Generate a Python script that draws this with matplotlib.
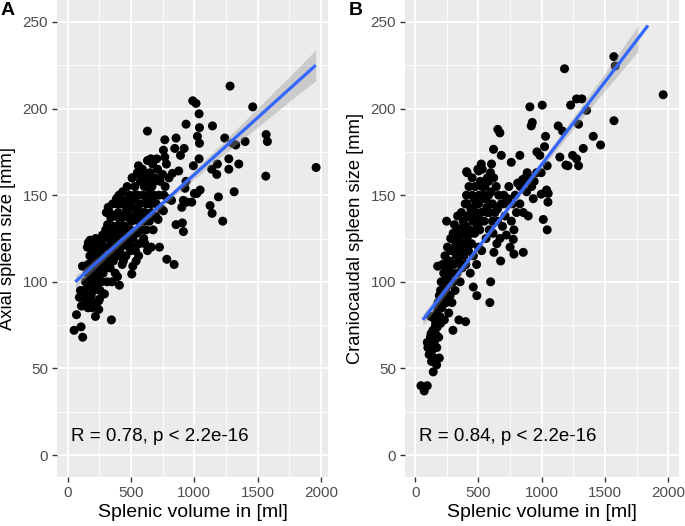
import numpy as np
import matplotlib
matplotlib.use("Agg")
import matplotlib.pyplot as plt
from matplotlib.ticker import MultipleLocator

plt.rcParams["font.family"] = ["Liberation Sans", "DejaVu Sans"]

# ---------------------------------------------------------------- data
# panel A: splenic volume [ml] vs axial spleen size [mm]
a_vol = [1283, 1963, 1462, 988, 1014, 1038, 935, 1144, 1041, 630, 1568, 1578, 1025, 1241, 1402,
         767, 856, 1041, 1302, 1328, 920, 846, 756, 891, 767, 656, 703, 1273, 1038, 1183, 1352,
         993, 559, 1138, 1273, 1565, 1178, 877, 827, 509, 935, 1046, 1020, 1001, 1315, 1191, 927,
         914, 940, 980, 1125, 901, 1141, 1225, 856, 906, 914, 783, 841, 725, 714, 756, 820, 677,
         50, 118, 105, 69, 92, 108, 345, 219, 192, 245, 245, 116, 506, 514, 408, 393, 163, 177, 155,
         130, 140, 150, 155, 160, 170, 175, 180, 185, 190, 195, 200, 200,
         205, 210, 215, 220, 225, 230, 235, 240, 245, 250, 255, 260, 265, 270, 275, 280, 285, 290,
         295, 300, 300,
         305, 310, 312, 315, 320, 325, 330, 335, 340, 345, 350, 355, 360, 365, 370, 375, 380, 385,
         390, 395, 400, 400,
         405, 410, 415, 420, 425, 430, 435, 440, 445, 450, 455, 460, 465, 470, 475, 480, 485, 490,
         495, 500, 500,
         505, 510, 515, 520, 525, 530, 535, 540, 545, 550, 555, 560, 565, 570, 575, 580, 585, 590,
         595, 600,
         605, 610, 615, 620, 625, 630, 640, 645, 650, 655, 660, 665, 670, 675, 680, 690, 695, 700,
         710, 720, 730, 740, 750, 760, 770, 780, 790, 800,
         260, 280, 320, 350, 380, 420, 440, 460, 520, 540, 560, 610, 630, 250, 230, 180, 160, 140,
         120, 100, 330, 345, 360, 290, 270, 310, 440, 470, 490, 530, 570, 600, 620, 650, 215, 235,
         390, 410, 480, 545, 585, 660, 685]
a_size = [213, 166, 201, 204.5, 203, 197, 191, 190, 189, 187, 185, 181, 184, 183, 181,
          182, 183, 180, 180, 179, 177, 177, 176, 173, 172, 171, 171, 171, 171, 168, 168,
          167, 167, 165, 165, 161, 162, 164, 162.6, 160, 158, 153, 151, 151, 152, 149, 154,
          147, 146, 146, 144, 143, 139.5, 135, 133, 134, 129, 113, 110, 120, 136, 141, 147, 146,
          72, 68, 74, 81, 91, 86, 78, 80, 85, 84, 89, 109, 104.5, 109, 98, 103, 122.6, 124, 120,
          95, 100, 92, 105, 110, 97, 115, 103, 92, 108, 118, 100, 112,
          95, 120, 105, 125, 98, 110, 115, 102, 122, 108, 95, 118, 112, 100, 127, 105, 120, 93,
          113, 108, 130,
          140, 120, 100, 133, 143, 115, 125, 108, 137, 130, 118, 145, 112, 128, 138, 105, 122, 148,
          132, 115, 140, 125,
          150, 118, 135, 145, 128, 110, 152, 138, 122, 147, 132, 115, 142, 155, 127, 137, 120, 150,
          130, 143, 118,
          135, 160, 125, 147, 138, 155, 118, 142, 128, 163, 150, 135, 122, 145, 158, 130, 140, 165,
          150, 125,
          155, 140, 162, 130, 148, 170, 158, 135, 163, 145, 120, 155, 168, 130, 150, 160, 138, 145,
          165, 150, 158, 142, 162, 150, 155, 168, 148, 160,
          100, 115, 110, 100, 115, 120, 112, 125, 120, 112, 115, 122, 118, 90, 88, 88, 85, 88,
          92, 95, 140, 122, 132, 125, 110, 127, 128, 140, 123, 150, 138, 135, 145, 152, 113, 100,
          145, 130, 145, 150, 160, 140, 158]

# panel B: splenic volume [ml] vs craniocaudal spleen size [mm]
b_vol = [1960, 1570, 1581, 1180, 1571, 906, 1004, 925, 917, 1228, 1275, 1317, 1354, 1291, 1130,
         1165, 653, 669, 1030, 1407, 1465, 1328, 1022, 962, 619, 680, 827, 1143, 1244, 1275, 759,
         1191, 1207, 1291, 1043, 406, 410, 522, 501, 603, 985, 996, 885, 849, 1038, 1051, 996, 1049,
         933, 827, 854, 893, 1012, 1043, 775, 854, 780, 675, 590, 398, 248, 177, 121, 45, 95, 71,
         142, 95, 129, 169, 190, 345, 298, 487, 459, 596, 622,
         100, 110, 120, 130, 140, 150, 155, 160, 170, 175, 180, 185, 190, 195, 200, 200,
         205, 210, 215, 220, 225, 230, 235, 240, 245, 250, 255, 260, 265, 270, 275, 280, 285, 290,
         295, 300, 300,
         305, 310, 315, 320, 325, 330, 335, 340, 345, 350, 355, 360, 365, 370, 375, 380, 385, 390,
         395, 400, 400,
         405, 410, 415, 420, 425, 430, 435, 440, 445, 450, 455, 460, 465, 470, 475, 480, 485, 490,
         495, 500, 500,
         505, 510, 515, 520, 525, 530, 540, 545, 550, 560, 565, 570, 580, 585, 590, 595, 600,
         610, 615, 620, 630, 640, 645, 650, 660, 670, 680, 690, 700,
         710, 720, 730, 740, 750, 760, 770, 780, 790, 800, 810, 830, 850, 870, 900, 920, 940, 960,
         880,
         140, 160, 180, 200, 220, 240, 260, 280, 320, 340, 360, 380, 420, 440, 460, 480, 520, 540,
         560, 580, 170, 210, 250, 290, 330, 370, 410, 450, 490, 530, 570, 610, 650, 700, 125, 150]
b_size = [208, 230, 224.6, 223, 193, 201, 202, 192, 190, 202, 205.6, 205.6, 199, 191, 190,
          187, 188, 186, 184, 184, 179, 177, 178, 175, 176.5, 173, 173, 172, 173, 171, 169,
          167.4, 167, 167, 167, 163.6, 163, 168, 164, 168, 173, 163, 163, 159, 153, 151, 150.6, 146,
          148, 145, 140, 138, 136, 130, 124.5, 117, 116, 112, 88, 77, 135, 109, 80, 40, 40, 37,
          48, 65, 54, 52, 56, 78, 72, 92, 97, 100, 117,
          62, 58, 68, 60, 72, 65, 78, 70, 82, 74, 88, 68, 92, 80, 76, 95,
          100, 85, 110, 90, 105, 78, 115, 95, 88, 108, 120, 98, 82, 112, 92, 125, 105, 88,
          118, 100, 128,
          110, 133, 95, 122, 115, 105, 138, 125, 112, 130, 100, 118, 140, 108, 128, 135, 115, 122,
          145, 110, 132,
          150, 125, 138, 118, 155, 130, 105, 142, 122, 160, 135, 115, 148, 128, 155, 140, 110, 132,
          165, 145, 120,
          150, 130, 158, 140, 118, 165, 148, 135, 155, 125, 143, 160, 150, 130, 140, 163, 152,
          145, 128, 160, 140, 155, 122, 135, 150, 125, 145, 132, 150,
          138, 127, 148, 155, 120, 135, 145, 130, 150, 140, 157, 155, 158, 160, 160, 155, 158, 163,
          152,
          66, 75, 85, 92, 100, 108, 112, 118, 125, 120, 128, 132, 138, 128, 140, 145, 135, 150,
          148, 158, 62, 95, 102, 110, 118, 122, 145, 150, 138, 155, 140, 135, 142, 145, 70, 56]

# fitted lines and their confidence bands
a_fit_x = [60, 300, 600, 900, 1200, 1500, 1800, 1960]
a_fit_y = [100, 115.8, 135.5, 155.3, 175.0, 194.7, 214.5, 225]
a_ci_half = [3.5, 2.5, 1.8, 2.2, 3.5, 5.5, 7.5, 9]
b_fit_x = [60, 300, 600, 900, 1200, 1500, 1760, 1840]
b_fit_y = [78, 100.9, 129.6, 158.2, 186.9, 215.5, 240.4, 248]
b_ci_half = [3.5, 2.5, 1.6, 2.0, 3.2, 5.0, 7.5, np.nan]

panels = [
    ("A", a_vol, a_size, a_fit_x, a_fit_y, a_ci_half, "Axial spleen size [mm]",
     "R = 0.78, p < 2.2e-16", (-85, 2057)),
    ("B", b_vol, b_size, b_fit_x, b_fit_y, b_ci_half, "Craniocaudal spleen size [mm]",
     "R = 0.84, p < 2.2e-16", (-81, 2085)),
]

# ---------------------------------------------------------------- plot
fig = plt.figure(figsize=(6.85, 5.26), dpi=100)
rects = [[57 / 685, 49 / 526, 271 / 685, 477 / 526],
         [405 / 685, 49 / 526, 274 / 685, 477 / 526]]

for rect, (tag, vx, vy, fx, fy, ci, ylab, rtxt, xl) in zip(rects, panels):
    ax = fig.add_axes(rect)
    ax.set_facecolor("#EBEBEB")
    for s in ax.spines.values():
        s.set_visible(False)
    ax.set_xlim(*xl); ax.set_ylim(-12.7, 262.7)
    ax.xaxis.set_major_locator(MultipleLocator(500)); ax.xaxis.set_minor_locator(MultipleLocator(250))
    ax.yaxis.set_major_locator(MultipleLocator(50)); ax.yaxis.set_minor_locator(MultipleLocator(25))
    ax.grid(which="major", color="white", lw=1.3)
    ax.grid(which="minor", color="white", lw=0.6)
    ax.set_axisbelow(True)
    ax.tick_params(which="major", length=3.4, width=1, color="#333333", labelsize=11,
                   labelcolor="#4D4D4D", pad=3)
    ax.tick_params(which="minor", length=0)

    ax.scatter(vx, vy, s=42, color="black", edgecolors="none", zorder=3)
    fx, fy, ci = np.array(fx, float), np.array(fy, float), np.array(ci, float)
    ok = ~np.isnan(ci)
    ax.fill_between(fx[ok], fy[ok] - ci[ok], fy[ok] + ci[ok], color="#999999", alpha=0.4,
                    lw=0, zorder=4)
    ax.plot(fx, fy, color="#3366FF", lw=2.3, zorder=5, solid_capstyle="butt")

    ax.text(26, 10.5, rtxt, fontsize=13.5, va="center", ha="left", color="black", zorder=6)
    ax.set_xlabel("Splenic volume in [ml]", fontsize=14, labelpad=3)
    ax.set_ylabel(ylab, fontsize=13.2, labelpad=5)
    fig.text(rect[0] - 57 / 685 + 1 / 685, 1 - 2 / 526, tag, fontsize=14, fontweight="bold",
             va="top", ha="left")

fig.savefig("out.png", dpi=100)
